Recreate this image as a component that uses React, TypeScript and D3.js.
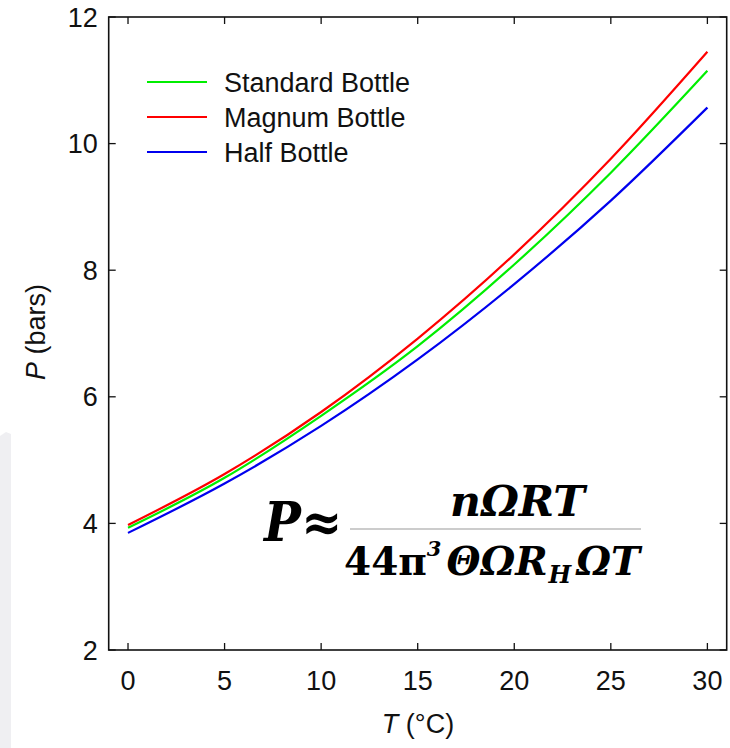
import React from 'react'
import * as d3 from 'd3'

// temperatures (°C) and pressures (bars)
const temps = [0, 5, 10, 15, 20, 25, 30]
const standardBottle = [3.93, 4.72, 5.70, 6.80, 8.09, 9.54, 11.15]
const magnumBottle = [3.975, 4.78, 5.76, 6.92, 8.25, 9.76, 11.45]
const halfBottle = [3.85, 4.63, 5.54, 6.59, 7.78, 9.10, 10.57]

const xTicks = [0, 5, 10, 15, 20, 25, 30]
const yTicks = [2, 4, 6, 8, 10, 12]

const series = [
  { name: 'Standard Bottle', color: '#00ee00', values: standardBottle },
  { name: 'Magnum Bottle', color: '#ff0000', values: magnumBottle },
  { name: 'Half Bottle', color: '#0000ee', values: halfBottle },
]

const W = 730
const H = 748
const left = 108.7
const right = 726.7
const top = 17
const bottom = 650

function App() {
  const x = d3.scaleLinear().domain([-1, 31]).range([left, right])
  const y = d3.scaleLinear().domain([2, 12]).range([bottom, top])

  const line = d3
    .line<number>()
    .x((d, i) => x(temps[i]))
    .y((d) => y(d))
    .curve(d3.curveMonotoneX)

  const font = 'Liberation Sans, Arial, sans-serif'
  const mathFont = 'DejaVu Serif, serif'

  return (
    <svg width={W} height={H} style={{ position: 'absolute', left: 0, top: 0 }} fontFamily={font}>
      <rect x={0} y={0} width={W} height={H} fill="white" />
      <path d="M0,436 L6,432 L11,434 L11,748 L0,748 Z" fill="#efeff2" />

      {/* lines */}
      <g fill="none" strokeWidth={2.2}>
        {series.map((s) => (
          <path key={s.name} d={line(s.values) || ''} stroke={s.color} />
        ))}
      </g>

      {/* frame */}
      <rect x={left} y={top} width={right - left} height={bottom - top} fill="none" stroke="#111" strokeWidth={1.6} />

      {/* ticks */}
      <g stroke="#111" strokeWidth={1.3}>
        {xTicks.map((t) => (
          <g key={'x' + t}>
            <line x1={x(t)} x2={x(t)} y1={bottom} y2={bottom - 7} />
            <line x1={x(t)} x2={x(t)} y1={top} y2={top + 7} />
          </g>
        ))}
        {yTicks.map((t) => (
          <g key={'y' + t}>
            <line x1={left} x2={left + 7} y1={y(t)} y2={y(t)} />
            <line x1={right} x2={right - 7} y1={y(t)} y2={y(t)} />
          </g>
        ))}
      </g>

      <g fontSize={27} fill="#111">
        {xTicks.map((t) => (
          <text key={'xl' + t} x={x(t)} y={bottom + 40} textAnchor="middle">
            {t}
          </text>
        ))}
        {yTicks.map((t) => (
          <text key={'yl' + t} x={left - 11} y={y(t) + 9.5} textAnchor="end">
            {t}
          </text>
        ))}
        <text x={418} y={733} textAnchor="middle">
          <tspan fontStyle="italic">T</tspan> (°C)
        </text>
        <text transform="translate(45,332) rotate(-90)" textAnchor="middle">
          <tspan fontStyle="italic">P</tspan> (bars)
        </text>
      </g>

      {/* legend */}
      <g fontSize={27} fill="#111">
        {series.map((s, i) => (
          <g key={'lg' + s.name} transform={`translate(0,${82 + i * 35})`}>
            <line x1={147} x2={207} y1={0} y2={0} stroke={s.color} strokeWidth={2.2} />
            <text x={224} y={9.5}>
              {s.name}
            </text>
          </g>
        ))}
      </g>

      {/* garbled formula annotation */}
      <g fill="#000" fontFamily={mathFont} fontWeight="bold" fontStyle="italic">
        <text x={264} y={541} fontSize={54} textLength={78} lengthAdjust="spacingAndGlyphs">
          P≈
        </text>
        <line x1={350} x2={641} y1={529} y2={529} stroke="#999" strokeWidth={1} />
        <text x={450} y={516} fontSize={42} textLength={135} lengthAdjust="spacingAndGlyphs">
          nΩRT
        </text>
        <text x={344} y={575} fontSize={39}>
          <tspan fontStyle="normal">44π</tspan>
          <tspan fontSize={21} dy={-19}>3</tspan>
          <tspan dy={19} dx={5}>ΘΩR</tspan>
          <tspan fontSize={24} dy={8} dx={1}>H</tspan>
          <tspan dy={-8} dx={5}>ΩT</tspan>
        </text>
      </g>
    </svg>
  )
}

export default App
